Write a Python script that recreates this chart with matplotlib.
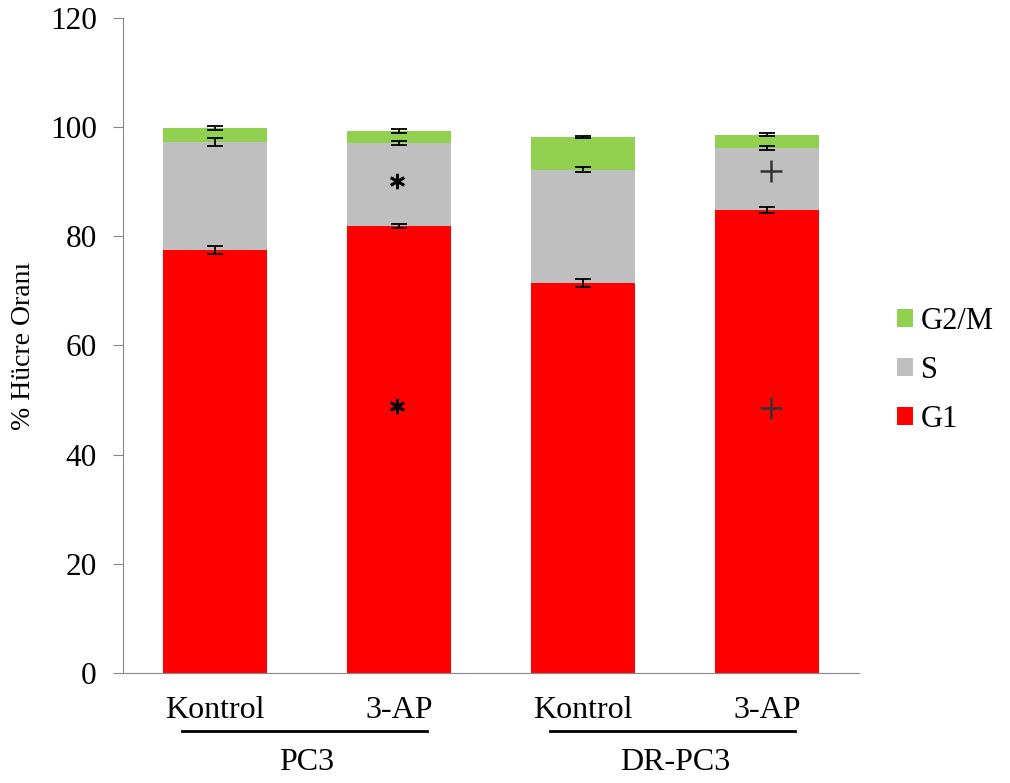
import matplotlib
matplotlib.use('Agg')
from matplotlib import pyplot as plt
import numpy as np

plt.rcParams['font.family'] = ['Liberation Serif', 'DejaVu Serif']

bars = ['Kontrol', '3-AP', 'Kontrol', '3-AP']
groups = ['PC3', 'DR-PC3']
g1 = [77.5, 81.9, 71.5, 84.8]
s = [19.8, 15.2, 20.7, 11.4]
g2m = [2.55, 2.2, 6.0, 2.4]
g1_err = [0.7, 0.3, 0.7, 0.5]
s_err = [0.7, 0.4, 0.5, 0.3]
g2m_err = [0.35, 0.4, 0.1, 0.3]
# significance marks: (bar index, y value, symbol)
marks = [(1, 49.0, '*'), (1, 90.1, '*'), (3, 48.6, '+'), (3, 92.0, '+')]

red = '#ff0000'
grey = '#bfbfbf'
green = '#92d050'

fig = plt.figure(figsize=(10.1, 7.83), dpi=100)
ax = fig.add_axes([0.1218, 0.1405, 0.7287, 0.8365])

x = np.arange(len(bars))
w = 0.57
g1 = np.array(g1)
s = np.array(s)
g2m = np.array(g2m)
b1 = ax.bar(x, g1, w, color=red, label='G1')
b2 = ax.bar(x, s, w, bottom=g1, color=grey, label='S')
b3 = ax.bar(x, g2m, w, bottom=g1 + s, color=green, label='G2/M')

ekw = dict(fmt='none', ecolor='black', elinewidth=1.3, capsize=6, capthick=1.3)
ax.errorbar(x, g1, yerr=g1_err, **ekw)
ax.errorbar(x, g1 + s, yerr=s_err, **ekw)
ax.errorbar(x, g1 + s + g2m, yerr=g2m_err, **ekw)

for i, yv, sym in marks:
    if sym == '*':
        ax.plot(x[i] - 0.01, yv, marker=(6, 2, 0), ms=11, mew=2.0,
                color='black')
    else:
        ax.plot(x[i] + 0.02, yv, marker='+', ms=16, mew=1.8,
                color='#333333')

ax.set_xlim(-0.5, 3.5)
ax.set_ylim(0, 120)
ax.set_yticks(range(0, 121, 20))
ax.tick_params(axis='y', labelsize=22.5, length=7, color='#888888', pad=12)
ax.set_xticks([])
for sp in ['top', 'right']:
    ax.spines[sp].set_visible(False)
for sp in ['left', 'bottom']:
    ax.spines[sp].set_color('#888888')
ax.set_ylabel('% Hücre Oranı', fontsize=20, labelpad=10)

# category labels and group brackets
for i, lab in enumerate(bars):
    ax.text(x[i], -6.8, lab, ha='center', va='center', fontsize=23,
            clip_on=False)
for k, grp in enumerate(groups):
    a, b = x[2 * k], x[2 * k + 1]
    ax.plot([a - 0.18, b + 0.15], [-10.6, -10.6], color='black', lw=2,
            clip_on=False)
    ax.text((a + b) / 2, -16.4, grp, ha='center', va='center', fontsize=23,
            clip_on=False)

handles = [b3, b2, b1]
leg = ax.legend(handles, [h.get_label() for h in handles], loc='center left',
                bbox_to_anchor=(1.022, 0.462), frameon=False, fontsize=22,
                handlelength=0.55, handleheight=0.55, handletextpad=0.25,
                labelspacing=0.65, borderaxespad=0.3)

fig.savefig('out.png', dpi=100)
